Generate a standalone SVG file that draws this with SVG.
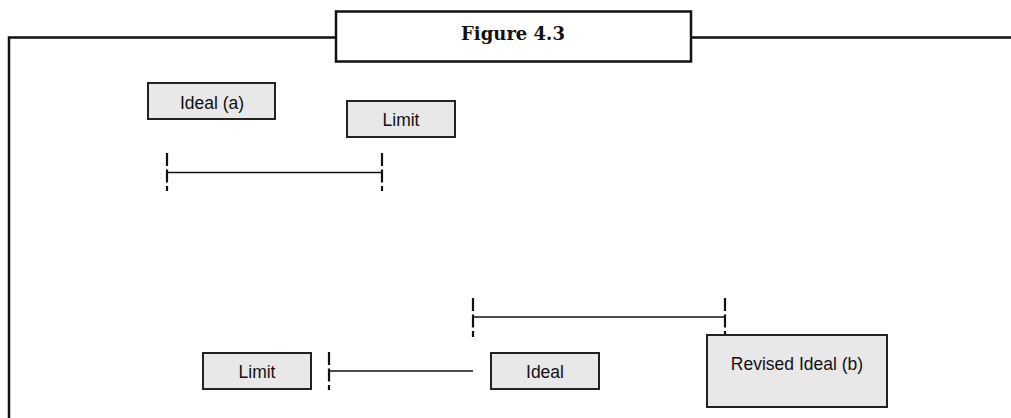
<svg xmlns="http://www.w3.org/2000/svg" width="1011" height="418" viewBox="0 0 1011 418">
<style>
.frame{fill:none;stroke:#111;stroke-width:2.5}
.box{fill:#e8e8e8;stroke:#222;stroke-width:2}
.lbl{font-family:"Liberation Sans",Arial,sans-serif;font-size:17.5px;fill:#111;text-anchor:middle}
.title{font-family:"DejaVu Serif","Liberation Serif",serif;font-size:18px;font-weight:bold;fill:#111;text-anchor:middle}
.tick{stroke:#111;stroke-width:2.2;stroke-dasharray:13 3.5;fill:none}
.line{stroke:#111;stroke-width:1.6;fill:none}
</style>
<rect width="1011" height="418" fill="#fff"/>
<g id="frame">
<path class="frame" d="M9,420 V37.5 H336 M691,37.5 H1012"/>
</g>
<g id="title">
<rect x="336" y="11.5" width="355" height="50" fill="#fff" stroke="#111" stroke-width="2.5"/>
<text class="title" x="513" y="40">Figure 4.3</text>
</g>
<g id="connectors">
<line class="tick" x1="167" y1="153" x2="167" y2="191"/>
<line class="tick" x1="382" y1="153" x2="382" y2="191"/>
<line class="line" x1="167" y1="172.5" x2="382" y2="172.5"/>
<line class="tick" x1="473" y1="298" x2="473" y2="337"/>
<line class="tick" x1="725" y1="298" x2="725" y2="335"/>
<line class="line" x1="473" y1="317" x2="725" y2="317"/>
<line class="tick" x1="329" y1="352" x2="329" y2="390"/>
<line class="line" x1="329" y1="371" x2="473" y2="371"/>
</g>
<g id="ideal-a">
<rect class="box" x="148" y="83" width="127" height="36"/>
<text class="lbl" x="212" y="108.5">Ideal (a)</text>
</g>
<g id="limit-top">
<rect class="box" x="347" y="101" width="108" height="36"/>
<text class="lbl" x="401" y="126">Limit</text>
</g>
<g id="limit-bottom">
<rect class="box" x="203" y="353" width="108" height="36"/>
<text class="lbl" x="257" y="378">Limit</text>
</g>
<g id="ideal">
<rect class="box" x="491" y="353" width="108" height="36"/>
<text class="lbl" x="545" y="378">Ideal</text>
</g>
<g id="revised-ideal-b">
<rect class="box" x="707" y="335" width="180" height="72"/>
<text class="lbl" x="797" y="370">Revised Ideal (b)</text>
</g>
</svg>
